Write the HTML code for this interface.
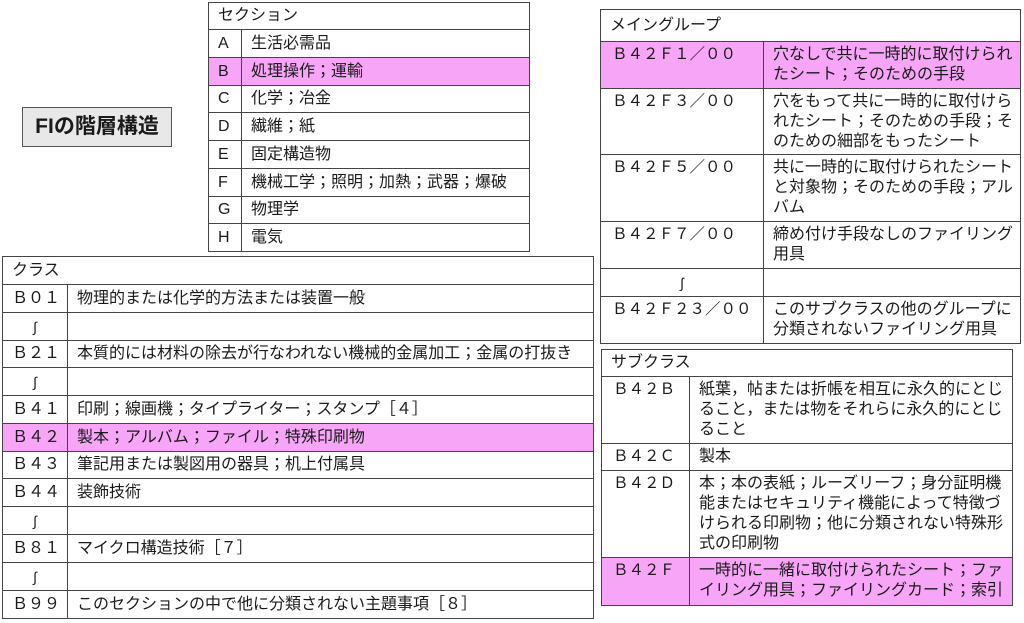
<!DOCTYPE html>
<html><head><meta charset="utf-8">
<style>
body{margin:0;width:1024px;height:623px;background:#fff;position:relative;overflow:hidden;font-family:"Liberation Sans","Noto Sans CJK JP",sans-serif;color:#1a1a1a;}
table{position:absolute;border-collapse:collapse;table-layout:fixed;font-size:16px;}
td{border:1.5px solid #444;padding:0 0 0 9px;white-space:nowrap;line-height:20px;vertical-align:middle;overflow:hidden;}
td.c{padding-left:11px;font-size:15.5px;}
tr.p td{background:#f7a6f7;}
.t td{vertical-align:top;padding-top:3px;}
.t td.h{vertical-align:middle;padding-top:0;}
.w{text-align:center;padding-left:0 !important;font-size:14px;}
#fi{position:absolute;left:22px;top:107px;width:148px;height:38px;border:1.5px solid #555;background:#e8e8e8;font-weight:bold;font-size:21px;line-height:38px;text-align:center;}
</style></head><body>
<div id="fi">FIの階層構造</div>

<table style="left:208px;top:2px;width:322px;">
<col style="width:33px"><col>
<tr style="height:27px"><td colspan="2">セクション</td></tr>
<tr style="height:28px"><td>A</td><td>生活必需品</td></tr>
<tr class="p" style="height:28px"><td>B</td><td>処理操作；運輸</td></tr>
<tr style="height:27px"><td>C</td><td>化学；冶金</td></tr>
<tr style="height:28px"><td>D</td><td>繊維；紙</td></tr>
<tr style="height:28px"><td>E</td><td>固定構造物</td></tr>
<tr style="height:28px"><td>F</td><td>機械工学；照明；加熱；武器；爆破</td></tr>
<tr style="height:27px"><td>G</td><td>物理学</td></tr>
<tr style="height:28px"><td>H</td><td>電気</td></tr>
</table>

<table style="left:2px;top:256px;width:592px;">
<col style="width:65px"><col>
<tr style="height:28px"><td colspan="2">クラス</td></tr>
<tr style="height:28px"><td>Ｂ０１</td><td>物理的または化学的方法または装置一般</td></tr>
<tr style="height:28px"><td class="w">∫</td><td></td></tr>
<tr style="height:27px"><td>Ｂ２１</td><td>本質的には材料の除去が行なわれない機械的金属加工；金属の打抜き</td></tr>
<tr style="height:28px"><td class="w">∫</td><td></td></tr>
<tr style="height:28px"><td>Ｂ４１</td><td>印刷；線画機；タイプライター；スタンプ［４］</td></tr>
<tr class="p" style="height:28px"><td>Ｂ４２</td><td>製本；アルバム；ファイル；特殊印刷物</td></tr>
<tr style="height:27px"><td>Ｂ４３</td><td>筆記用または製図用の器具；机上付属具</td></tr>
<tr style="height:28px"><td>Ｂ４４</td><td>装飾技術</td></tr>
<tr style="height:28px"><td class="w">∫</td><td></td></tr>
<tr style="height:28px"><td>Ｂ８１</td><td>マイクロ構造技術［７］</td></tr>
<tr style="height:28px"><td class="w">∫</td><td></td></tr>
<tr style="height:28px"><td>Ｂ９９</td><td>このセクションの中で他に分類されない主題事項［８］</td></tr>
</table>

<table class="t" style="left:600px;top:9px;width:421px;">
<col style="width:163px"><col>
<tr style="height:32px"><td class="h" colspan="2">メイングループ</td></tr>
<tr class="p" style="height:47px"><td class="c">Ｂ４２Ｆ１／００</td><td>穴なしで共に一時的に取付けられ<br>たシート；そのための手段</td></tr>
<tr style="height:66px"><td class="c">Ｂ４２Ｆ３／００</td><td>穴をもって共に一時的に取付けら<br>れたシート；そのための手段；そ<br>のための細部をもったシート</td></tr>
<tr style="height:67px"><td class="c">Ｂ４２Ｆ５／００</td><td>共に一時的に取付けられたシート<br>と対象物；そのための手段；アル<br>バム</td></tr>
<tr style="height:47px"><td class="c">Ｂ４２Ｆ７／００</td><td>締め付け手段なしのファイリング<br>用具</td></tr>
<tr style="height:28px"><td class="w h">∫</td><td></td></tr>
<tr style="height:47px"><td class="c">Ｂ４２Ｆ２３／００</td><td>このサブクラスの他のグループに<br>分類されないファイリング用具</td></tr>
</table>

<table class="t" style="left:601px;top:349px;width:412px;">
<col style="width:88px"><col>
<tr style="height:27px"><td class="h" colspan="2">サブクラス</td></tr>
<tr style="height:67px"><td class="c">Ｂ４２Ｂ</td><td>紙葉，帖または折帳を相互に永久的にとじ<br>ること，または物をそれらに永久的にとじ<br>ること</td></tr>
<tr style="height:27px"><td class="c">Ｂ４２Ｃ</td><td>製本</td></tr>
<tr style="height:87px"><td class="c">Ｂ４２Ｄ</td><td>本；本の表紙；ルーズリーフ；身分証明機<br>能またはセキュリティ機能によって特徴づ<br>けられる印刷物；他に分類されない特殊形<br>式の印刷物</td></tr>
<tr class="p" style="height:48px"><td class="c">Ｂ４２Ｆ</td><td>一時的に一緒に取付けられたシート；ファ<br>イリング用具；ファイリングカード；索引</td></tr>
</table>
</body></html>
